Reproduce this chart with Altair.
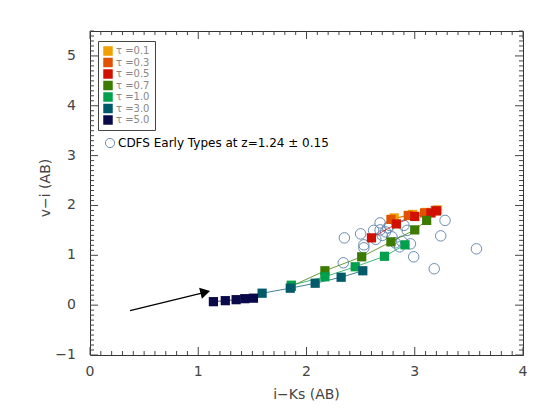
import altair as alt
import pandas as pd

# ---------------- data ----------------
tau_labels = ["τ =0.1", "τ =0.3", "τ =0.5", "τ =0.7", "τ =1.0", "τ =3.0", "τ =5.0"]
tau_colors = ["#f0a000", "#e05200", "#d01000", "#3c7a00", "#00a04c", "#005a6a", "#0a0a4a"]

t01_x = [2.81, 2.98, 3.10, 3.21]
t01_y = [1.75, 1.82, 1.86, 1.91]
t03_x = [2.78, 2.94, 3.09, 3.19]
t03_y = [1.72, 1.80, 1.85, 1.90]
t05_x = [2.60, 2.83, 3.00, 3.15, 3.20]
t05_y = [1.35, 1.63, 1.78, 1.85, 1.89]
t07_x = [1.86, 2.17, 2.51, 2.78, 3.00, 3.11]
t07_y = [0.38, 0.69, 0.97, 1.27, 1.51, 1.70]
t10_x = [1.86, 2.17, 2.45, 2.72, 2.91]
t10_y = [0.40, 0.57, 0.77, 0.98, 1.21]
t30_x = [1.59, 1.85, 2.08, 2.32, 2.52]
t30_y = [0.24, 0.34, 0.44, 0.56, 0.69]
t50_x = [1.14, 1.25, 1.35, 1.43, 1.51]
t50_y = [0.07, 0.09, 0.11, 0.13, 0.14]

cdfs_label = "CDFS Early Types at z=1.24 ± 0.15"
cdfs_x = [2.35, 2.50, 2.53, 2.53, 2.34, 2.62, 2.68, 2.68, 2.73, 2.75, 2.79, 2.70, 2.86,
          2.88, 2.90, 2.93, 2.96, 2.99, 3.18, 3.24, 3.28, 3.57, 2.64, 2.82, 2.77]
cdfs_y = [1.35, 1.43, 1.21, 1.15, 0.85, 1.50, 1.65, 1.51, 1.47, 1.55, 1.37, 1.40, 1.17,
          1.28, 1.60, 1.50, 1.23, 0.97, 0.73, 1.39, 1.70, 1.13, 1.32, 1.25, 1.60]

arrow_x = [0.37, 1.08]
arrow_y = [-0.11, 0.265]
head_x = [1.065]
head_y = [0.262]

x_major = [0, 1, 2, 3, 4]
x_major_labels = ["0", "1", "2", "3", "4"]
y_major = [-1, 0, 1, 2, 3, 4, 5]
y_major_labels = ["−1", "0", "1", "2", "3", "4", "5"]
x_minor = [i / 10 for i in range(0, 41) if i % 10]
y_minor = [i / 10 for i in range(-10, 56) if i % 10]
x_title = "i−Ks (AB)"
y_title = "v−i (AB)"

# ---------------- tables ----------------
series_x = [t01_x, t03_x, t05_x, t07_x, t10_x, t30_x, t50_x]
series_y = [t01_y, t03_y, t05_y, t07_y, t10_y, t30_y, t50_y]
rows = []
for i, (lab, xs_, ys_) in enumerate(zip(tau_labels, series_x, series_y)):
    for j, (xv, yv) in enumerate(zip(xs_, ys_)):
        rows.append(dict(tau=lab, x=xv, y=yv, rank=i * 10 + j, step=j))
sq = pd.DataFrame(rows)
circ = pd.DataFrame({"x": cdfs_x, "y": cdfs_y, "lab": cdfs_label})
arrow = pd.DataFrame({"x": arrow_x, "y": arrow_y})
head = pd.DataFrame({"x": head_x, "y": head_y})
dummy = pd.DataFrame({"x": [0.0], "y": [0.0]})
xmaj_t = pd.DataFrame({"v": x_major})
ymaj_t = pd.DataFrame({"v": y_major})
xmin_t = pd.DataFrame({"v": x_minor})
ymin_t = pd.DataFrame({"v": y_minor})
xlab = pd.DataFrame({"x": x_major, "t": x_major_labels})
ylab = pd.DataFrame({"y": y_major, "t": y_major_labels})
xt = pd.DataFrame({"t": [x_title]})
yt = pd.DataFrame({"t": [y_title]})

W, H = 433, 324
FONT = "DejaVu Sans"
TICK = "#444444"
LAB = "#444444"
xsc = alt.Scale(domain=[0, 4], nice=False, zero=False)
ysc = alt.Scale(domain=[-1, 5.5], nice=False, zero=False)


def X(f="x"):
    return alt.X(f + ":Q", scale=xsc, axis=None)


def Y(f="y"):
    return alt.Y(f + ":Q", scale=ysc, axis=None)


color_scale = alt.Scale(domain=tau_labels, range=tau_colors)

base_layer = alt.Chart(dummy).mark_point(opacity=0).encode(x=X(), y=Y())

circles = alt.Chart(circ).mark_point(shape="circle", filled=False, size=110, strokeWidth=1, opacity=1).encode(
    x=X(), y=Y(),
    stroke=alt.Stroke("lab:N", scale=alt.Scale(domain=[cdfs_label], range=["#6a8db5"]),
                      legend=alt.Legend(orient="none", legendX=14, legendY=106, title=None,
                                        symbolType="circle", symbolSize=85, symbolStrokeWidth=1,
                                        labelFontSize=12, labelColor="black", labelFont=FONT,
                                        labelOffset=2, padding=0, labelLimit=400)),
)

lines = alt.Chart(sq).mark_line(strokeWidth=1, opacity=0.75).encode(
    x=X(), y=Y(),
    color=alt.Color("tau:N", scale=color_scale, legend=None),
    detail="tau:N",
    order="step:Q",
)

squares = alt.Chart(sq).mark_point(shape="square", filled=True, size=85, opacity=1).encode(
    x=X(), y=Y(),
    color=alt.Color("tau:N", scale=color_scale,
                    legend=alt.Legend(orient="none", legendX=8, legendY=10, title=None,
                                      symbolType="square", symbolSize=90, symbolStrokeWidth=0,
                                      symbolOpacity=1, labelFontSize=10, labelColor="#888888",
                                      labelFont=FONT, labelOffset=3, rowPadding=1.5,
                                      padding=5, strokeColor="#444444", fillColor="white")),
    order="rank:Q",
)

arrow_line = alt.Chart(arrow).mark_line(color="black", strokeWidth=1.2).encode(x=X(), y=Y())
arrow_head = alt.Chart(head).mark_point(shape="triangle-right", filled=True, color="black",
                                        size=130, angle=346, opacity=1).encode(x=X(), y=Y())


def xticks(df, size):
    base = alt.Chart(df).mark_rule(color=TICK, strokeWidth=1)
    bottom = base.encode(x=X("v"), y=alt.value(H), y2=alt.value(H - size))
    top = base.encode(x=X("v"), y=alt.value(0), y2=alt.value(size))
    return [bottom, top]


def yticks(df, size):
    base = alt.Chart(df).mark_rule(color=TICK, strokeWidth=1)
    left = base.encode(y=Y("v"), x=alt.value(0), x2=alt.value(size))
    right = base.encode(y=Y("v"), x=alt.value(W), x2=alt.value(W - size))
    return [left, right]


tick_layers = xticks(xmaj_t, 8) + xticks(xmin_t, 4) + yticks(ymaj_t, 8) + yticks(ymin_t, 4)

# tick labels and axis titles
x_labels = alt.Chart(xlab).mark_text(font=FONT, fontSize=14, color=LAB, baseline="top", align="center").encode(
    x=X(), y=alt.value(H + 10), text="t:N")
y_labels = alt.Chart(ylab).mark_text(font=FONT, fontSize=14, color=LAB, baseline="middle", align="right").encode(
    y=Y(), x=alt.value(-14), text="t:N")
x_title_m = alt.Chart(xt).mark_text(font=FONT, fontSize=14, color=LAB, baseline="alphabetic", align="center").encode(
    x=alt.value(W / 2), y=alt.value(H + 44), text="t:N")
y_title_m = alt.Chart(yt).mark_text(font=FONT, fontSize=14, color=LAB, baseline="middle", align="center",
                                    angle=270).encode(
    x=alt.value(-44), y=alt.value(H / 2 - 5), text="t:N")

chart = alt.layer(base_layer, *tick_layers, circles, lines, squares, arrow_line, arrow_head,
                  x_labels, y_labels, x_title_m, y_title_m).resolve_legend(
    color="independent", stroke="independent"
).properties(
    width=W, height=H, padding={"left": 31, "top": 22, "right": 5, "bottom": 5}
).configure_view(stroke="#333333", strokeWidth=1)

chart.save("out.html", embed_options={"renderer": "svg", "actions": False})
